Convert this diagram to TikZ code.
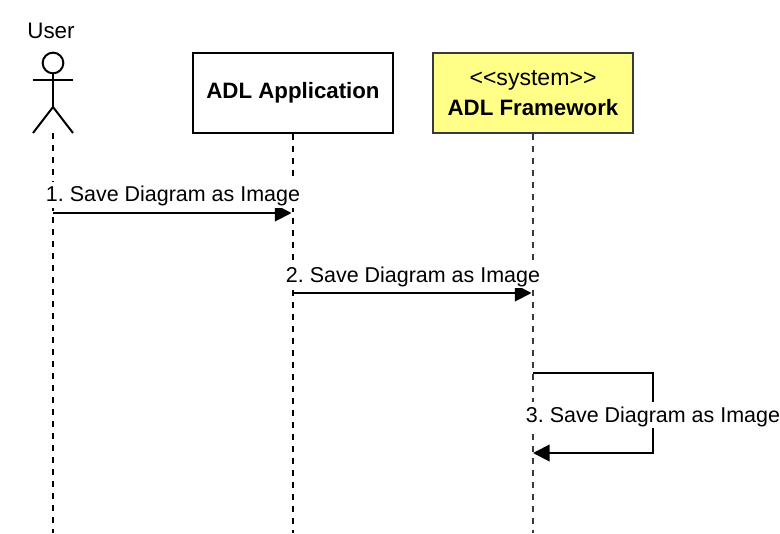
\documentclass[tikz,border=0pt]{standalone}
\usepackage{fontspec}
\setmainfont{Liberation Sans}
\frenchspacing
\usetikzlibrary{arrows.meta}
\definecolor{sysfill}{HTML}{FFFF88}
\definecolor{sysline}{HTML}{36393D}
\tikzset{
  x=0.75pt,y=-0.75pt,
  box/.style={draw=black,line width=1.5pt,minimum width=150pt,minimum height=60pt,inner sep=0pt,align=center,font=\fontsize{16.7}{22.5}\selectfont},
  lifeline/.style={line width=1.5pt,dash pattern=on 4.5pt off 4.5pt},
  msg/.style={line width=1.5pt,-{Triangle[length=12.5pt,width=12.5pt]}},
  lbl/.style={fill=white,inner sep=0pt,font=\fontsize{16.1}{20}\selectfont,text height=15pt,text depth=4.5pt},
  stick/.style={line width=1.5pt}
}
\begin{document}
\begin{tikzpicture}
\useasboundingbox (0,0) rectangle (780,534);
% actor
\node[font=\fontsize{16.8}{20}\selectfont,inner sep=0pt] (usertext) at (51,31) {User};
\node[draw=black,line width=1.5pt,circle,minimum size=15.5pt,inner sep=0pt] (head) at (53,63) {};
\coordinate (hip) at (53,107);
\coordinate (arml) at (33,80);
\coordinate (armr) at (73,80);
\coordinate (footl) at (33,133);
\coordinate (footr) at (73,133);
\coordinate (uTop) at (53,133);
\coordinate (uEnd) at (53,533);
\draw[stick] (head.south) -- (hip);
\draw[stick] (arml) -- (armr);
\draw[stick] (footl) -- (hip) -- (footr);
% boxes
\node[box] (app) at (293,93) {\raisebox{-0.75pt}{\textbf{ADL Application}}};
\node[box,fill=sysfill,draw=sysline] (fw) at (533,93) {{\fontsize{17.3}{22.5}\selectfont <{}<system>{}>}\\\textbf{ADL Framework}};
\coordinate (aEnd) at (293,533);
\coordinate (fEnd) at (533,533);
% lifelines
\draw[lifeline] (uTop) -- (uEnd);
\draw[lifeline] (app.south) -- (aEnd);
\draw[lifeline,draw=sysline] (fw.south) -- (fEnd);
% messages
\coordinate (m1a) at (53,213); \coordinate (m1b) at (291.5,213);
\coordinate (m2a) at (293,293); \coordinate (m2b) at (531.5,293);
\coordinate (m3a) at (533,373); \coordinate (m3c) at (653,373);
\coordinate (m3d) at (653,453); \coordinate (m3b) at (533,453);
\draw[msg] (m1a) -- (m1b);
\draw[msg] (m2a) -- (m2b);
\draw[msg] (m3a) -- (m3c) -- (m3d) -- (m3b);
\node[lbl] (l1) at (173,195) {1. Save Diagram as Image};
\node[lbl] (l2) at (413,275) {2. Save Diagram as Image};
\node[lbl] (l3) at (653,415) {3. Save Diagram as Image};
\end{tikzpicture}
\end{document}
